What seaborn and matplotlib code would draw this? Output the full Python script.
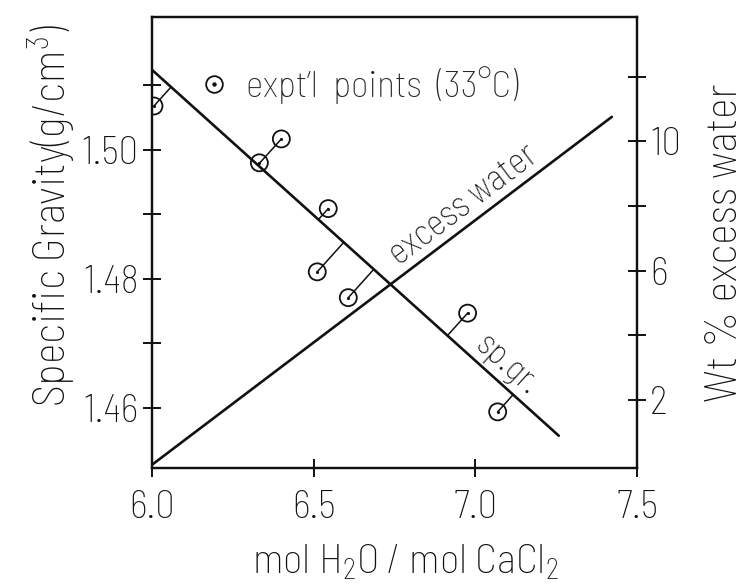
import numpy as np
import pandas as pd
import matplotlib
matplotlib.use("Agg")
import matplotlib.pyplot as plt
from matplotlib.lines import Line2D
import seaborn as sns

# Measured specific gravity of CaCl2 hydrate melts at 33 °C
mol_ratio = [6.006, 6.332, 6.400, 6.511, 6.545, 6.607, 6.976, 7.069]
sp_gravity = [1.5068, 1.4980, 1.5017, 1.4811, 1.4909, 1.4771, 1.4747, 1.4594]

# Straight-line fit of the specific gravity
sg_fit_x = [6.0, 7.258]
sg_fit_y = [1.5124, 1.4557]

# Wt % excess water (right-hand axis)
water_x = [6.0, 7.422]
water_y = [0.0, 10.76]

x_ticks = [6.0, 6.5, 7.0, 7.5]
x_tick_labels = ["6.0", "6.5", "7.0", "7.5"]
sg_ticks = [1.46, 1.47, 1.48, 1.49, 1.50, 1.51]
sg_tick_labels = ["1.46", "", "1.48", "", "1.50", ""]
water_ticks = [2, 4, 6, 8, 10, 12]
water_tick_labels = ["2", "", "6", "", "10", ""]

sns.set_theme(style="ticks")
FONT = ["Barlow Semi Condensed", "Barlow Condensed", "Roboto Condensed",
        "PT Sans Narrow", "DejaVu Sans"]
plt.rcParams["font.family"] = FONT
plt.rcParams["font.weight"] = "light"
plt.rcParams["axes.labelweight"] = "light"
plt.rcParams["mathtext.default"] = "regular"
plt.rcParams["axes.linewidth"] = 1.6

INK = "#111111"
fig = plt.figure(figsize=(7.47, 5.85), dpi=100)
ax = fig.add_axes([0.2035, 0.2, 0.6493, 0.771])
ax2 = ax.twinx()

ax.set_xlim(6.0, 7.5)
ax.set_ylim(1.4507, 1.5206)
ax2.set_ylim(-0.1, 13.85)

pts = pd.DataFrame({"x": mol_ratio, "sg": sp_gravity})
fit = pd.DataFrame({"x": sg_fit_x, "sg": sg_fit_y})
water = pd.DataFrame({"x": water_x, "wt": water_y})

sns.lineplot(data=fit, x="x", y="sg", ax=ax, color=INK, lw=1.9, legend=False)
sns.lineplot(data=water, x="x", y="wt", ax=ax2, color=INK, lw=1.9, legend=False)

# perpendicular offsets from each point to the fitted line (in screen space)
P = ax.transData.transform(np.column_stack([sg_fit_x, sg_fit_y]))
d = (P[1] - P[0]) / np.linalg.norm(P[1] - P[0])
for xv, yv in zip(mol_ratio, sp_gravity):
    q = ax.transData.transform((xv, yv))
    foot = P[0] + np.dot(q - P[0], d) * d
    fx, fy = ax.transData.inverted().transform(foot)
    ax.plot([xv, fx], [yv, fy], color=INK, lw=1.1)

sns.scatterplot(data=pts, x="x", y="sg", ax=ax, marker="o", s=150,
                facecolors="none", edgecolor=INK, linewidth=1.3, zorder=5)
sns.scatterplot(data=pts, x="x", y="sg", ax=ax, marker="o", s=5,
                color=INK, linewidth=0, zorder=6)


def angle_of(axis, xs, ys):
    p = axis.transData.transform(np.column_stack([xs, ys]))
    return np.degrees(np.arctan2(p[1, 1] - p[0, 1], p[1, 0] - p[0, 0]))


def on_line(xs, ys, xv):
    return ys[0] + (ys[1] - ys[0]) * (xv - xs[0]) / (xs[1] - xs[0])


# labels running along the lines
a_w = angle_of(ax2, water_x, water_y)
xw = 7.0
ax2.annotate("excess water", xy=(xw, on_line(water_x, water_y, xw)),
             xytext=(-2 * np.sin(np.radians(a_w)), 2 * np.cos(np.radians(a_w))),
             textcoords="offset points", rotation=a_w, rotation_mode="anchor",
             ha="center", va="bottom", fontsize=26, color=INK)

a_s = angle_of(ax, sg_fit_x, sg_fit_y)
xs = 7.062
ax.annotate("sp.gr.", xy=(xs, on_line(sg_fit_x, sg_fit_y, xs)),
            xytext=(-1 * np.sin(np.radians(a_s)), 1 * np.cos(np.radians(a_s))),
            textcoords="offset points", rotation=a_s, rotation_mode="anchor",
            ha="center", va="bottom", fontsize=25, color=INK)

# legend with a dotted-circle symbol
ring = Line2D([], [], marker="o", ms=12, mfc="none", mec=INK, mew=1.3, ls="none")
dot = Line2D([], [], marker="o", ms=2.2, mfc=INK, mec=INK, ls="none")
ax.legend(handles=[(ring, dot)], labels=["expt\u2019l  points  (33\u00b0C)"],
          loc="center left", bbox_to_anchor=(0.097, 0.849), frameon=False,
          handlelength=0.8, handletextpad=0.45, borderaxespad=0, borderpad=0,
          prop={"size": 27, "weight": "light"})

# axes and ticks
ax.set_xticks(x_ticks)
ax.set_xticklabels(x_tick_labels)
ax.set_yticks(sg_ticks)
ax.set_yticklabels(sg_tick_labels)
ax2.set_yticks(water_ticks)
ax2.set_yticklabels(water_tick_labels)

for a in (ax, ax2):
    a.tick_params(direction="inout", length=13, width=1.4, labelsize=28,
                  colors=INK, pad=3)
    for s in a.spines.values():
        s.set_visible(True)
        s.set_linewidth(1.6)
        s.set_color(INK)
ax.tick_params(axis="x", pad=9)
ax.tick_params(top=False, right=False)
ax2.tick_params(left=False, right=True)

ax.set_xlabel("mol H$_2$O / mol CaCl$_2$", fontsize=30, color=INK)
ax.set_ylabel("Specific Gravity(g/cm$^3$)", fontsize=32, color=INK)
ax2.set_ylabel("Wt % excess water", fontsize=32, color=INK)
ax.xaxis.set_label_coords(0.522, -0.165)
ax.yaxis.set_label_coords(-0.155, 0.56)
ax2.yaxis.set_label_coords(1.14, 0.5)

fig.savefig("out.png", dpi=100, facecolor="white")
